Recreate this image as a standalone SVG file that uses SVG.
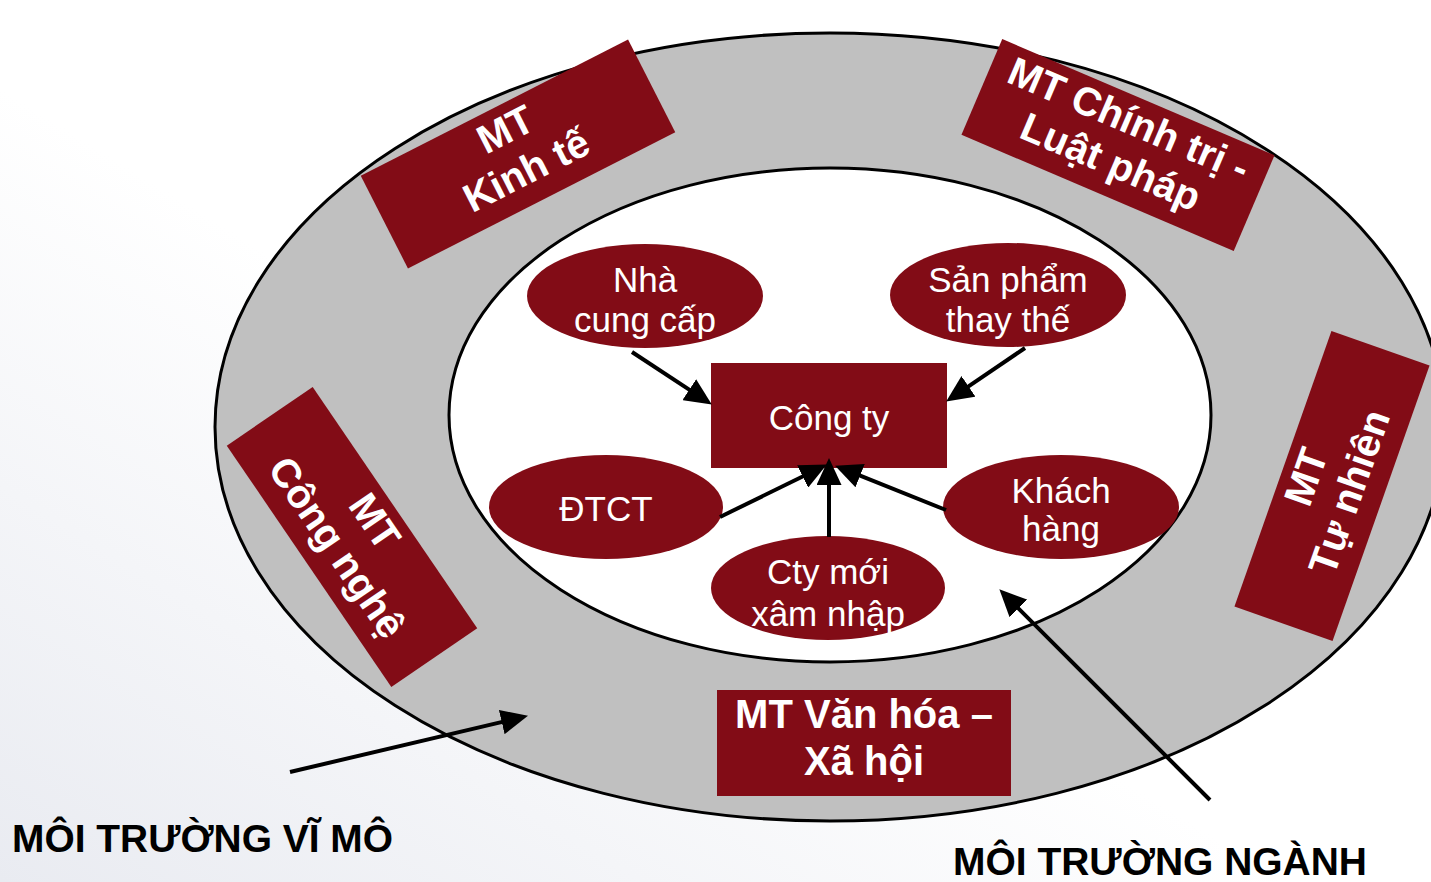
<svg xmlns="http://www.w3.org/2000/svg" width="1431" height="882" viewBox="0 0 1431 882">
<defs>
<linearGradient id="bg" x1="1" y1="0" x2="0" y2="1">
<stop offset="0" stop-color="#ffffff"/>
<stop offset="0.55" stop-color="#ffffff"/>
<stop offset="1" stop-color="#e9ebf1"/>
</linearGradient>
<marker id="ah" markerUnits="userSpaceOnUse" markerWidth="27" markerHeight="25" viewBox="0 0 27 25" refX="4" refY="12.5" orient="auto">
<path d="M0,0 L27,12.5 L0,25 z" fill="#000"/>
</marker>
<style>
.box{fill:#820c16}
.bt{fill:#fff;font-family:"Liberation Sans",Arial,sans-serif;font-weight:bold;font-size:40px;text-anchor:middle}
.et{fill:#fff;font-family:"Liberation Sans",Arial,sans-serif;font-size:35px;text-anchor:middle}
.lab{fill:#000;font-family:"Liberation Sans",Arial,sans-serif;font-weight:bold;font-size:38px}
.conn{stroke:#000;stroke-width:4;fill:none;marker-end:url(#ah)}
</style>
</defs>
<rect x="0" y="0" width="1431" height="882" fill="url(#bg)"/>

<g id="outer-ring">
<ellipse cx="830" cy="427" rx="615" ry="394" fill="#c0c0c0" stroke="#000" stroke-width="3"/>
</g>
<g id="inner-area">
<ellipse cx="830" cy="415" rx="381" ry="247" fill="#fff" stroke="#000" stroke-width="3"/>
</g>

<g id="mt-kinh-te" transform="translate(518,154) rotate(-27)">
<rect class="box" x="-150" y="-52" width="300" height="104"/>
<text class="bt" x="0" y="-14">MT</text>
<text class="bt" x="0" y="32">Kinh tế</text>
</g>

<g id="mt-chinh-tri" transform="translate(1118,145) rotate(23.1)">
<rect class="box" x="-148" y="-52" width="296" height="104"/>
<text class="bt" x="0" y="-14">MT Chính trị -</text>
<text class="bt" x="0" y="32">Luật pháp</text>
</g>

<g id="mt-cong-nghe" transform="translate(352,537) rotate(55.7)">
<rect class="box" x="-146" y="-52" width="292" height="104"/>
<text class="bt" x="0" y="-14">MT</text>
<text class="bt" x="0" y="32">Công nghệ</text>
</g>

<g id="mt-tu-nhien" transform="translate(1332,486) rotate(-70.6)">
<rect class="box" x="-146" y="-52" width="292" height="104"/>
<text class="bt" x="0" y="-14">MT</text>
<text class="bt" x="0" y="32">Tự nhiên</text>
</g>

<g id="mt-van-hoa">
<rect class="box" x="717" y="690" width="294" height="106"/>
<text class="bt" x="864" y="728">MT Văn hóa –</text>
<text class="bt" x="864" y="775">Xã hội</text>
</g>

<g id="nha-cung-cap">
<ellipse class="box" cx="645" cy="296" rx="118" ry="52"/>
<text class="et" x="645" y="292">Nhà</text>
<text class="et" x="645" y="332">cung cấp</text>
</g>

<g id="san-pham-thay-the">
<ellipse class="box" cx="1008" cy="295" rx="118" ry="52"/>
<text class="et" x="1008" y="292">Sản phẩm</text>
<text class="et" x="1008" y="332">thay thế</text>
</g>

<g id="cong-ty">
<rect class="box" x="711" y="363" width="236" height="105"/>
<text class="et" x="829" y="430">Công ty</text>
</g>

<g id="dtct">
<ellipse class="box" cx="606" cy="507" rx="117" ry="52"/>
<text class="et" x="606" y="521">ĐTCT</text>
</g>

<g id="cty-moi">
<ellipse class="box" cx="828" cy="588" rx="117" ry="52"/>
<text class="et" x="828" y="584">Cty mới</text>
<text class="et" x="828" y="626">xâm nhập</text>
</g>

<g id="khach-hang">
<ellipse class="box" cx="1061" cy="507" rx="118" ry="52"/>
<text class="et" x="1061" y="503">Khách</text>
<text class="et" x="1061" y="541">hàng</text>
</g>

<g id="connectors">
<line class="conn" x1="632" y1="352" x2="692.6" y2="391.9"/>
<line class="conn" x1="1025" y1="348" x2="965.2" y2="388.6"/>
<line class="conn" x1="720" y1="517" x2="806.2" y2="474.7"/>
<line class="conn" x1="829" y1="537" x2="829" y2="481"/>
<line class="conn" x1="946" y1="510" x2="856.4" y2="474.2"/>
<line class="conn" x1="290" y1="772" x2="505.6" y2="721.1"/>
<line class="conn" x1="1210" y1="800" x2="1015.6" y2="605.6"/>
</g>

<g id="labels">
<text class="lab" x="12" y="852" textLength="381" lengthAdjust="spacingAndGlyphs">MÔI TRƯỜNG VĨ MÔ</text>
<text class="lab" x="953" y="875" textLength="414" lengthAdjust="spacingAndGlyphs">MÔI TRƯỜNG NGÀNH</text>
</g>
</svg>
